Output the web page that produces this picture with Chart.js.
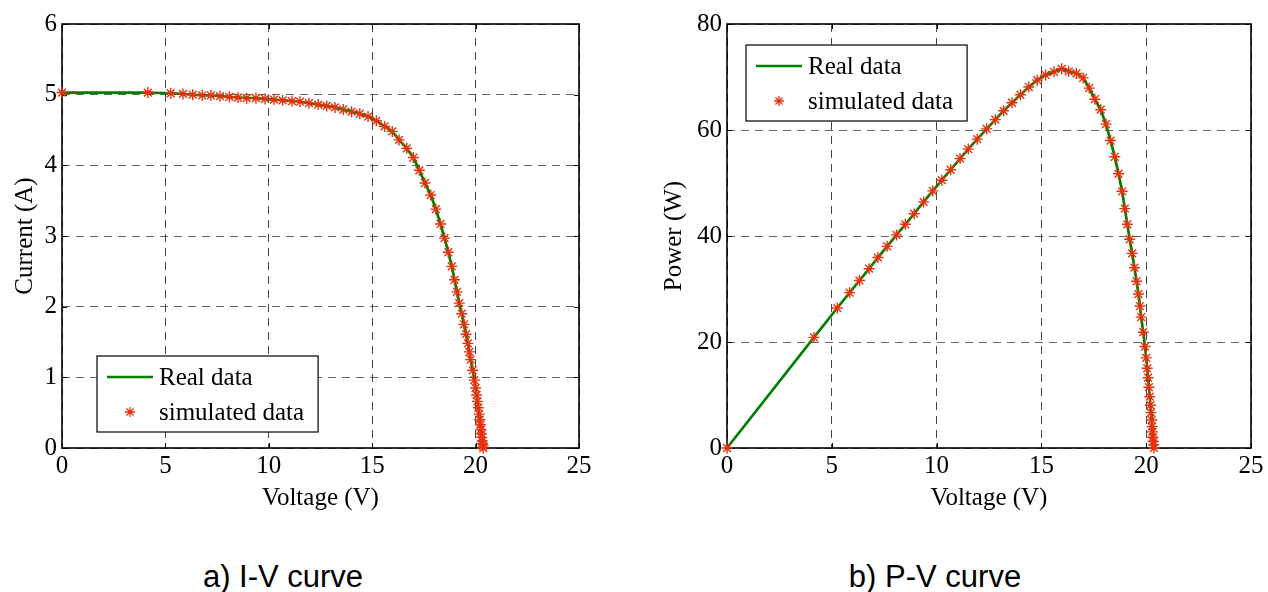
<!DOCTYPE html>
<html><head><meta charset="utf-8">
<script src="https://cdn.jsdelivr.net/npm/chart.js@4.4.1/dist/chart.umd.min.js"></script>
<style>
html,body{margin:0;padding:0;background:#fff;width:1268px;height:592px;overflow:hidden;position:relative}
#c1{position:absolute;left:0;top:0}
#c2{position:absolute;left:640px;top:0}
.cap{position:absolute;top:561px;font-family:"Liberation Sans",Arial,sans-serif;font-size:31px;line-height:31px;color:#000;white-space:nowrap;transform:translateX(-50%)}
</style></head><body>
<canvas id="c1" width="620" height="520"></canvas>
<canvas id="c2" width="628" height="520"></canvas>
<div class="cap" style="left:283px">a) I-V curve</div>
<div class="cap" style="left:935px">b) P-V curve</div>
<script>
// ---- data ----
const voltage = [0, 4.15, 5.26, 5.85, 6.32, 6.78, 7.20, 7.64, 8.09, 8.51, 8.93, 9.38, 9.82, 10.25, 10.67, 11.12, 11.51, 11.94, 12.39, 12.80, 13.20, 13.60, 14.00, 14.40, 14.80, 15.20, 15.60, 15.97, 16.30, 16.67, 16.99, 17.28, 17.55, 17.83, 18.08, 18.30, 18.50, 18.68, 18.85, 18.98, 19.10, 19.21, 19.33, 19.44, 19.54, 19.63, 19.70, 19.76, 19.86, 19.94, 20.00, 20.05, 20.09, 20.13, 20.17, 20.20, 20.23, 20.26, 20.28, 20.30, 20.32, 20.34, 20.36, 20.37];
const current = [5.03, 5.03, 5.02, 5.01, 5.00, 4.99, 4.99, 4.98, 4.97, 4.96, 4.95, 4.95, 4.94, 4.93, 4.92, 4.91, 4.90, 4.88, 4.86, 4.84, 4.82, 4.79, 4.76, 4.73, 4.69, 4.63, 4.55, 4.48, 4.36, 4.24, 4.11, 3.93, 3.75, 3.58, 3.38, 3.17, 2.97, 2.77, 2.57, 2.38, 2.21, 2.05, 1.90, 1.75, 1.61, 1.48, 1.36, 1.25, 1.10, 0.96, 0.85, 0.75, 0.66, 0.57, 0.48, 0.40, 0.33, 0.26, 0.20, 0.15, 0.10, 0.06, 0.03, 0.00];
const power = [0, 20.87, 26.41, 29.31, 31.60, 33.83, 35.93, 38.05, 40.21, 42.21, 44.20, 46.43, 48.51, 50.53, 52.50, 54.60, 56.40, 58.27, 60.22, 61.95, 63.62, 65.14, 66.64, 68.11, 69.41, 70.38, 70.98, 71.55, 71.07, 70.68, 69.83, 67.91, 65.81, 63.83, 61.11, 58.01, 54.95, 51.74, 48.44, 45.17, 42.21, 39.38, 36.73, 34.02, 31.46, 29.05, 26.79, 24.70, 21.85, 19.14, 17.00, 15.04, 13.26, 11.47, 9.68, 8.08, 6.68, 5.27, 4.06, 3.05, 2.03, 1.22, 0.61, 0];
const seriesNames = ["Real data", "simulated data"];
const xLabel = "Voltage (V)";
const yLabelIV = "Current (A)";
const yLabelPV = "Power (W)";

const FONT = '"Liberation Serif","Times New Roman",serif';
const FS = 25;
const GREEN = '#008000';
const RED = 'rgb(232,48,12)';

function pts(xs, ys){ return xs.map((x,i)=>({x:x, y:ys[i]})); }

function drawStar(ctx, x, y, r){
  ctx.beginPath();
  ctx.moveTo(x, y-r); ctx.lineTo(x, y+r);
  ctx.moveTo(x-r, y); ctx.lineTo(x+r, y);
  const d = r*Math.SQRT1_2;
  ctx.moveTo(x-d, y-d); ctx.lineTo(x+d, y+d);
  ctx.moveTo(x-d, y+d); ctx.lineTo(x+d, y-d);
  ctx.stroke();
}

const framePlugin = {
  id: 'frame',
  beforeDatasetsDraw(chart){
    const {ctx, chartArea:a, scales} = chart;
    ctx.save();
    ctx.strokeStyle = '#000';
    ctx.lineWidth = 1;
    const L = 5;
    ctx.beginPath();
    scales.x.ticks.forEach(t=>{
      const px = Math.round(scales.x.getPixelForValue(t.value))+0.5;
      ctx.moveTo(px, a.bottom); ctx.lineTo(px, a.bottom-L);
      ctx.moveTo(px, a.top); ctx.lineTo(px, a.top+L);
    });
    scales.y.ticks.forEach(t=>{
      const py = Math.round(scales.y.getPixelForValue(t.value))+0.5;
      ctx.moveTo(a.left, py); ctx.lineTo(a.left+L, py);
      ctx.moveTo(a.right, py); ctx.lineTo(a.right-L, py);
    });
    ctx.stroke();
    ctx.lineWidth = 1.6;
    ctx.strokeRect(a.left, a.top, a.right-a.left, a.bottom-a.top);
    ctx.restore();
  },
  afterDraw(chart, args, opts){
    const {ctx, chartArea:a} = chart;
    if (!opts || !opts.legend) return;
    const lg = opts.legend;
    ctx.save();
    ctx.font = FS + 'px ' + FONT;
    const tw = Math.max(...seriesNames.map(s=>ctx.measureText(s).width));
    const w = 62 + tw + 14, h = 76;
    const left = a.left + lg.dx;
    const top = lg.fromBottom ? a.bottom - lg.dy - h : a.top + lg.dy;
    ctx.fillStyle = '#fff';
    ctx.fillRect(left, top, w, h);
    ctx.strokeStyle = '#000';
    ctx.lineWidth = 1.2;
    ctx.strokeRect(left, top, w, h);
    const r1 = top + 21, r2 = top + 56;
    ctx.strokeStyle = GREEN; ctx.lineWidth = 2.6;
    ctx.beginPath(); ctx.moveTo(left+10, r1); ctx.lineTo(left+56, r1); ctx.stroke();
    ctx.strokeStyle = RED; ctx.lineWidth = 1.3;
    drawStar(ctx, left+33, r2, 5);
    ctx.fillStyle = '#000';
    ctx.textBaseline = 'middle';
    ctx.textAlign = 'left';
    ctx.fillText(seriesNames[0], left+62, r1+1);
    ctx.fillText(seriesNames[1], left+62, r2+1);
    ctx.restore();
  }
};

function makeChart(id, ys, yMax, yStep, yTitle, yWidth, yTitlePad, padRight, legend){
  return new Chart(document.getElementById(id), {
    type: 'scatter',
    data: {
      datasets: [
        { label: seriesNames[1], data: pts(voltage, ys), showLine: false,
          pointStyle: 'star', pointRadius: 5.5, pointBorderWidth: 1.4,
          borderColor: RED, backgroundColor: RED, clip: false, order: 0 },
        { label: seriesNames[0], data: pts(voltage, ys), showLine: true,
          pointRadius: 0, borderColor: GREEN, borderWidth: 2.7, tension: 0,
          clip: false, order: 1 }
      ]
    },
    options: {
      responsive: false, animation: false, devicePixelRatio: 1,
      layout: { padding: { top: 24, right: padRight, left: 0, bottom: 0 } },
      plugins: { legend: { display: false }, tooltip: { enabled: false },
        frame: { legend: legend } },
      scales: {
        x: {
          type: 'linear', min: 0, max: 25,
          ticks: { stepSize: 5, padding: 3, color: '#000', font: { family: FONT, size: FS } },
          grid: { color: 'rgba(0,0,0,0.72)', lineWidth: 1, drawTicks: false },
          border: { display: false, dash: [8,6] },
          title: { display: true, text: xLabel, color: '#000', font: { family: FONT, size: FS }, padding: { top: 0, bottom: 7 } },
          afterFit: s => { s.height = 72; }
        },
        y: {
          type: 'linear', min: 0, max: yMax,
          ticks: { stepSize: yStep, padding: 5, color: '#000', font: { family: FONT, size: FS } },
          grid: { color: 'rgba(0,0,0,0.6)', lineWidth: 1, drawTicks: false },
          border: { display: false, dash: [8,6] },
          title: { display: true, text: yTitle, color: '#000', font: { family: FONT, size: FS }, padding: { top: yTitlePad, bottom: 0 } },
          afterFit: s => { s.width = yWidth; }
        }
      }
    },
    plugins: [framePlugin]
  });
}

makeChart('c1', current, 6, 1, yLabelIV, 62, 10, 41, { dx: 35, dy: 16, fromBottom: true });
makeChart('c2', power, 80, 20, yLabelPV, 87, 19, 17, { dx: 19, dy: 21, fromBottom: false });
</script>
</body></html>
